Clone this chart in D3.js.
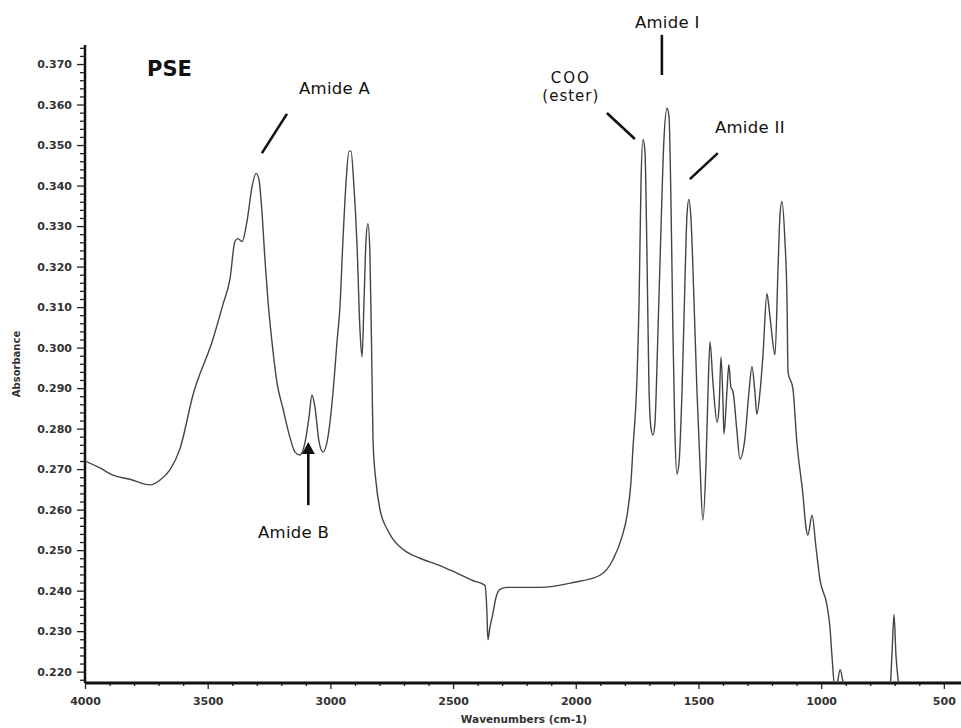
<!DOCTYPE html>
<html>
<head>
<meta charset="utf-8">
<script src="https://cdn.jsdelivr.net/npm/d3@7"></script>
<style>
    body { margin: 0; background: #fff; }
    svg { display: block; font-family: "DejaVu Sans", sans-serif; }
</style>
</head>
<body>
<script>
// FTIR spectrum (wavenumber in cm-1, absorbance)
const wavenumbers = [
    4000, 3939, 3886, 3817, 3735, 3694, 3654, 3613, 3560, 3478,
    3438, 3409, 3389, 3377, 3360, 3340, 3319, 3303, 3291, 3279,
    3266, 3254, 3238, 3218, 3193, 3165, 3144, 3124, 3103, 3087,
    3075, 3063, 3046, 3030, 3010, 2989, 2973, 2961, 2949, 2936,
    2924, 2916, 2904, 2892, 2879, 2871, 2863, 2855, 2847, 2839,
    2830, 2826, 2814, 2798, 2769, 2745, 2688, 2635, 2553, 2484,
    2420, 2370, 2362, 2358, 2350, 2341, 2337, 2325, 2309, 2280,
    2146, 2011, 1901, 1848, 1812, 1791, 1775, 1767, 1751, 1742,
    1734, 1726, 1718, 1710, 1702, 1694, 1685, 1677, 1665, 1653,
    1641, 1628, 1620, 1612, 1604, 1596, 1588, 1579, 1567, 1555,
    1547, 1539, 1531, 1518, 1506, 1494, 1482, 1469, 1461, 1453,
    1441, 1424, 1416, 1408, 1400, 1396, 1384, 1376, 1368, 1359,
    1343, 1331, 1311, 1294, 1282, 1270, 1262, 1249, 1237, 1221,
    1213, 1205, 1188, 1176, 1168, 1160, 1148, 1139, 1135, 1115,
    1099, 1074, 1062, 1054, 1037, 1021, 1005, 976, 964, 956,
    944, 936, 923, 911, 903, 880, 760, 720, 711, 703,
    695, 687, 679, 650, 430
];
const absorbance = [
    0.2720, 0.2703, 0.2685, 0.2675, 0.2661, 0.2673, 0.2698, 0.2750, 0.2883, 0.3022,
    0.3106, 0.3170, 0.3262, 0.3269, 0.3262, 0.3311, 0.3398, 0.3430, 0.3415, 0.3336,
    0.3212, 0.3113, 0.3014, 0.2915, 0.2849, 0.2779, 0.2742, 0.2735, 0.2767, 0.2829,
    0.2883, 0.2853, 0.2767, 0.2742, 0.2779, 0.2891, 0.3014, 0.3101, 0.3262, 0.3410,
    0.3485, 0.3485, 0.3398, 0.3262, 0.3039, 0.2977, 0.3113, 0.3262, 0.3306, 0.3237,
    0.2915, 0.2767, 0.2668, 0.2601, 0.2552, 0.2527, 0.2495, 0.2480, 0.2462, 0.2443,
    0.2425, 0.2413, 0.2346, 0.2279, 0.2309, 0.2334, 0.2346, 0.2383, 0.2403, 0.2408,
    0.2408, 0.2420, 0.2438, 0.2477, 0.2532, 0.2586, 0.2668, 0.2750, 0.2915, 0.3113,
    0.3410, 0.3514, 0.3485, 0.3237, 0.2915, 0.2804, 0.2784, 0.2816, 0.3039, 0.3287,
    0.3509, 0.3591, 0.3571, 0.3361, 0.3039, 0.2792, 0.2688, 0.2717, 0.2891, 0.3163,
    0.3324, 0.3366, 0.3324, 0.3113, 0.2891, 0.2717, 0.2574, 0.2717, 0.2891, 0.3014,
    0.2915, 0.2816, 0.2853, 0.2977, 0.2866, 0.2787, 0.2891, 0.2958, 0.2903, 0.2891,
    0.2792, 0.2725, 0.2774, 0.2891, 0.2953, 0.2891, 0.2836, 0.2891, 0.2982, 0.3133,
    0.3101, 0.3057, 0.2982, 0.3188, 0.3324, 0.3361, 0.3269, 0.3113, 0.2940, 0.2898,
    0.2767, 0.2636, 0.2557, 0.2537, 0.2586, 0.2507, 0.2428, 0.2363, 0.2309, 0.2240,
    0.2160, 0.2165, 0.2205, 0.2175, 0.2150, 0.2050, 0.2050, 0.2148, 0.2247, 0.2341,
    0.2240, 0.2185, 0.2148, 0.2050, 0.2050
];

// tick values
const xTickValues = [4000, 3500, 3000, 2500, 2000, 1500, 1000, 500];
const yTickValues = [0.220, 0.230, 0.240, 0.250, 0.260, 0.270, 0.280, 0.290,
                     0.300, 0.310, 0.320, 0.330, 0.340, 0.350, 0.360, 0.370];

// band labels and where they sit (in wavenumber / absorbance units)
const bandLabels = ["Amide A", "Amide B", "COO", "(ester)", "Amide I", "Amide II"];
const labelPos = [[3128, 0.3626], [3295, 0.2530], [2020, 0.3653], [2020, 0.3609], [1759, 0.3789], [1433, 0.3530]];
const labelAnchor = ["start", "start", "middle", "middle", "start", "start"];
const leaderLines = [
    [[3279, 0.3480], [3177, 0.3577]],   // Amide A
    [[1873, 0.3579], [1759, 0.3515]],   // COO
    [[1649, 0.3673], [1649, 0.3772]],   // Amide I
    [[1535, 0.3416], [1421, 0.3480]]    // Amide II
];
const arrowFrom = [3090, 0.2611];
const arrowTip = [3090, 0.2767];

// canvas
let width = 961;
let height = 728;
let margin = { top: 45, bottom: 45, left: 85, right: 0 };

const svg = d3.select("body").append("svg")
    .attr("width", width)
    .attr("height", height);

let xScale = d3.scaleLinear()
    .domain([4000, 430])
    .range([margin.left, width - margin.right]);

let yScale = d3.scaleLinear()
    .domain([0.2172, 0.3747])
    .range([height - margin.bottom, margin.top]);

// clip the trace to the plot area
svg.append("clipPath").attr("id", "plot")
    .append("rect")
    .attr("x", margin.left)
    .attr("y", margin.top)
    .attr("width", width - margin.left - margin.right)
    .attr("height", height - margin.top - margin.bottom);

// minor ticks
const xMinor = d3.range(3900, 430, -100).filter(d => d % 500 !== 0);
const yMinor = d3.range(218, 375, 2).map(d => d / 1000).filter(d => Math.round(d * 1000) % 10 !== 0);

svg.append("g")
    .attr("transform", `translate(0,${height - margin.bottom})`)
    .call(d3.axisBottom(xScale).tickValues(xMinor).tickSize(3).tickFormat(""))
    .call(g => g.select(".domain").remove());

svg.append("g")
    .attr("transform", `translate(${margin.left},0)`)
    .call(d3.axisLeft(yScale).tickValues(yMinor).tickSize(5).tickFormat(""))
    .call(g => g.select(".domain").remove());

// major ticks
svg.append("g")
    .attr("transform", `translate(0,${height - margin.bottom})`)
    .call(d3.axisBottom(xScale).tickValues(xTickValues).tickSize(6).tickPadding(8).tickFormat(d3.format("d")))
    .call(g => g.select(".domain").remove())
    .call(g => g.selectAll("text")
        .style("font-family", "DejaVu Sans")
        .style("font-size", "11px")
        .style("font-weight", "bold")
        .attr("fill", "#333"));

svg.append("g")
    .attr("transform", `translate(${margin.left},0)`)
    .call(d3.axisLeft(yScale).tickValues(yTickValues).tickSize(8).tickPadding(5).tickFormat(d3.format(".3f")))
    .call(g => g.select(".domain").remove())
    .call(g => g.selectAll("text")
        .style("font-family", "DejaVu Sans")
        .style("font-size", "11px")
        .style("font-weight", "bold")
        .attr("fill", "#333"));

svg.selectAll(".tick line").attr("stroke", "#222").attr("stroke-width", 1.3);

// axis lines
svg.append("line")
    .attr("x1", margin.left).attr("x2", width - margin.right)
    .attr("y1", height - margin.bottom).attr("y2", height - margin.bottom)
    .attr("stroke", "#111").attr("stroke-width", 3);

svg.append("line")
    .attr("x1", margin.left).attr("x2", margin.left)
    .attr("y1", margin.top).attr("y2", height - margin.bottom)
    .attr("stroke", "#111").attr("stroke-width", 2.5);

// axis titles
svg.append("text")
    .attr("x", 524)
    .attr("y", 723)
    .attr("text-anchor", "middle")
    .style("font-size", "10.5px")
    .style("font-weight", "bold")
    .attr("fill", "#333")
    .text("Wavenumbers (cm-1)");

svg.append("text")
    .attr("x", -364)
    .attr("y", 20)
    .attr("transform", "rotate(-90)")
    .attr("text-anchor", "middle")
    .style("font-size", "10px")
    .style("font-weight", "bold")
    .attr("fill", "#333")
    .text("Absorbance");

// spectrum trace
const spectrum = d3.zip(wavenumbers, absorbance);
const line = d3.line()
    .x(d => xScale(d[0]))
    .y(d => yScale(d[1]))
    .curve(d3.curveMonotoneX);

svg.append("path")
    .datum(spectrum)
    .attr("clip-path", "url(#plot)")
    .attr("d", line)
    .attr("fill", "none")
    .attr("stroke", "#444")
    .attr("stroke-width", 1.4)
    .attr("stroke-linejoin", "round");

// sample name
svg.append("text")
    .attr("x", xScale(3747))
    .attr("y", yScale(0.3670))
    .style("font-size", "21px")
    .style("font-weight", "bold")
    .attr("fill", "#111")
    .text("PSE");

// band labels
svg.selectAll(".band")
    .data(bandLabels)
    .enter()
    .append("text")
    .attr("class", "band")
    .attr("x", (d, i) => xScale(labelPos[i][0]))
    .attr("y", (d, i) => yScale(labelPos[i][1]))
    .attr("text-anchor", (d, i) => labelAnchor[i])
    .style("font-size", (d, i) => i === 2 || i === 3 ? "15px" : "16.5px")
    .style("letter-spacing", (d, i) => i === 2 ? "2px" : (i === 3 ? "1px" : "0.3px"))
    .attr("fill", "#111")
    .text(d => d);

// leader lines
svg.selectAll(".leader")
    .data(leaderLines)
    .enter()
    .append("line")
    .attr("class", "leader")
    .attr("x1", d => xScale(d[0][0]))
    .attr("y1", d => yScale(d[0][1]))
    .attr("x2", d => xScale(d[1][0]))
    .attr("y2", d => yScale(d[1][1]))
    .attr("stroke", "#111")
    .attr("stroke-width", 2.6);

// Amide B arrow
const tipX = xScale(arrowTip[0]);
const tipY = yScale(arrowTip[1]);
svg.append("line")
    .attr("x1", xScale(arrowFrom[0]))
    .attr("y1", yScale(arrowFrom[1]))
    .attr("x2", tipX)
    .attr("y2", tipY + 8)
    .attr("stroke", "#111")
    .attr("stroke-width", 2.6);

svg.append("path")
    .attr("d", `M${tipX},${tipY} L${tipX - 6.5},${tipY + 12} L${tipX + 6.5},${tipY + 12} Z`)
    .attr("fill", "#111");
</script>
</body>
</html>
